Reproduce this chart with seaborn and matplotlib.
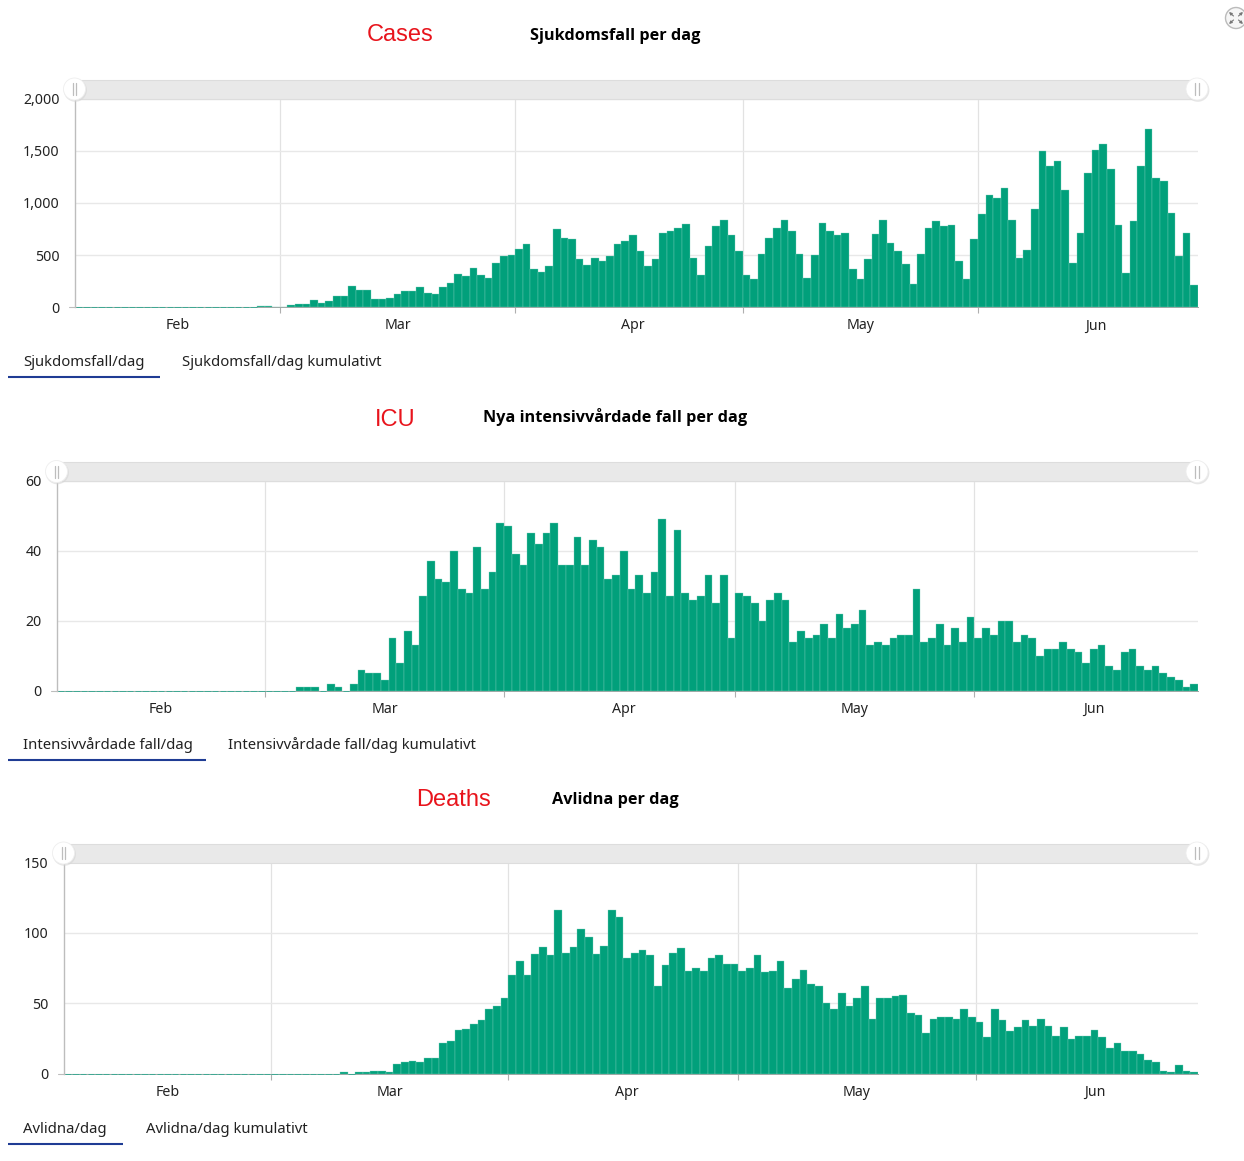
import matplotlib
matplotlib.use("Agg")
import matplotlib.pyplot as plt
from matplotlib.patches import Circle, Rectangle
import numpy as np
import pandas as pd
import seaborn as sns

# ---------- data ----------
cases = [0]*24 + [15, 8, 6] + [
    6,20,30,30,67,45,58,105,105,200,165,165,80,80,93,128,153,153,190,140,128,190,236,320,297,380,307,284,428,489,500,
    560,607,367,342,393,751,668,655,463,406,476,441,489,607,633,690,537,393,463,716,728,764,799,476,307,585,776,834,690,537,
    307,272,511,668,764,834,728,511,284,501,811,728,690,716,367,272,463,703,834,620,537,415,224,511,764,824,776,786,441,272,655,
    895,1073,1051,1147,834,476,546,943,1495,1351,1399,1121,428,716,1291,1505,1565,1326,786,329,824,1351,1709,1243,1208,907,489,716,211]
icu = [0]*27 + [
    0,0,0,0,1,1,1,0,2,1,0,2,6,5,5,3,15,8,17,13,27,37,32,31,40,29,28,41,29,34,48,
    47,39,36,45,42,45,48,36,36,44,36,43,41,32,33,40,29,33,28,34,49,27,46,28,26,27,33,25,33,15,
    28,27,25,20,26,28,26,14,17,15,16,19,15,22,18,19,23,13,14,13,15,16,16,29,14,15,19,13,18,14,21,
    15,18,16,20,20,14,16,15,10,12,12,14,12,11,8,12,13,7,6,11,12,7,6,7,5,4,3,1,2]
deaths = [0]*27 + [
    0,0,0,0,0,0,0,0,0,1,0,1,1,2,2,1,7,8,9,8,11,11,22,23,31,32,35,38,46,48,54,
    70,80,70,85,90,84,116,86,90,103,97,85,91,116,111,82,86,88,84,62,77,86,89,73,75,73,82,84,78,78,
    73,75,84,72,73,80,61,67,74,64,62,50,46,57,48,54,62,39,54,54,55,56,43,42,29,39,40,40,39,46,40,
    37,26,46,38,30,33,38,34,39,34,27,33,25,27,27,31,26,18,22,16,16,14,10,8,2,1,6,2,1]
dates = pd.date_range("2020-02-03", periods=148).strftime("%Y-%m-%d").tolist()
month_labels = ["Feb", "Mar", "Apr", "May", "Jun"]
titles = ["Sjukdomsfall per dag", "Nya intensivvårdade fall per dag", "Avlidna per dag"]
red_labels = ["Cases", "ICU", "Deaths"]
tabs = [("Sjukdomsfall/dag", "Sjukdomsfall/dag kumulativt"),
        ("Intensivvårdade fall/dag", "Intensivvårdade fall/dag kumulativt"),
        ("Avlidna/dag", "Avlidna/dag kumulativt")]
yticks = [[0, 500, 1000, 1500, 2000], [0, 20, 40, 60], [0, 50, 100, 150]]
series = [cases, icu, deaths]

# ---------- layout (pixels) ----------
W, H = 1244, 1161
left = [75, 57, 64]
right = 1198
top = [98.5, 481, 862.5]
bottom = [307.3, 690.7, 1073.7]
title_y = [35, 416, 799]
red_xy = [(400, 33), (395, 418), (453.5, 798)]
tab_y = [361, 744, 1128]
tab_under = [160, 206, 123]
tab2_x = [182, 228, 146]
BAR = "#01A07B"
EDGE = "#7FD0BD"
GRID = "#E8E8E8"

sns.set_theme(style="white")
plt.rcParams["font.family"] = ["Noto Sans", "DejaVu Sans"]
fig = plt.figure(figsize=(W/100, H/100), dpi=100, facecolor="white")

month_starts = [27, 58, 88, 119]
label_pos = [27 - 14, 27 + 15, 58 + 15, 88 + 15, 119 + 15]

for k, vals in enumerate(series):
    ax = fig.add_axes([left[k]/W, 1 - bottom[k]/H, (right-left[k])/W, (bottom[k]-top[k])/H])
    df = pd.DataFrame({"date": dates, "value": vals})
    sns.barplot(data=df, x="date", y="value", ax=ax, color=BAR, saturation=1,
                width=1, edgecolor=EDGE, linewidth=0.25, zorder=3)
    for p in ax.patches:
        if p.get_height() == 0:
            p.set_x(p.get_x() + 0.08)
            p.set_width(p.get_width() - 0.16)
            p.set_edgecolor("#3FA893")
            p.set_linewidth(0.7)
            p.set_clip_on(False)
    ax.set_xlim(-0.5, len(vals) - 0.5)
    ax.set_ylim(0, yticks[k][-1])
    ax.set_xlabel(""); ax.set_ylabel("")
    ax.set_xticks([m - 0.5 for m in month_starts])
    ax.set_xticklabels([""] * 4)
    ax.set_xticks(label_pos, labels=month_labels, minor=True)
    ax.set_yticks(yticks[k])
    ax.set_yticklabels([f"{v:,}" for v in yticks[k]])
    ax.set_axisbelow(True)
    ax.grid(True, axis="y", which="major", color=GRID, linewidth=1)
    ax.grid(True, axis="x", which="major", color="#E2E2E2", linewidth=0.9)
    ax.tick_params(axis="x", which="major", length=4.5, width=0.8, color="#AFAFAF", bottom=True)
    ax.tick_params(axis="x", which="minor", length=0, pad=8, labelsize=10.2, labelcolor="#222222")
    ax.tick_params(axis="y", length=0, pad=11, labelsize=10.2, labelcolor="#222222")
    for s in ("top", "right"):
        ax.spines[s].set_visible(False)
    ax.spines["left"].set_color("#BDBDBD")
    ax.spines["left"].set_linewidth(1)
    ax.spines["bottom"].set_color("#9AA8A4")
    ax.spines["bottom"].set_linewidth(0.7)
    ax.spines["bottom"].set_zorder(2)

# overlay in pixel coordinates for the page furniture
ov = fig.add_axes([0, 0, 1, 1], zorder=10)
ov.set_xlim(0, W); ov.set_ylim(H, 0); ov.axis("off"); ov.patch.set_alpha(0)

for k in range(3):
    cy = top[k] - 9.5
    ov.add_patch(Rectangle((left[k], cy - 9.5), 1197 - left[k], 19, facecolor="#E9E9E9",
                           edgecolor="#DDDDDD", linewidth=0.8))
    for hx in (left[k] - 0.5, 1197):
        ov.add_patch(Circle((hx + 0.8, cy + 1.2), 11.6, facecolor="#D6D6D6", edgecolor="none", alpha=0.6))
        ov.add_patch(Circle((hx, cy), 11, facecolor="white", edgecolor="#EEEEEE", linewidth=0.6))
        ov.plot([hx - 1.8, hx - 1.8], [cy - 6, cy + 6], color="#BDBDBD", lw=0.9)
        ov.plot([hx + 1.8, hx + 1.8], [cy - 6, cy + 6], color="#BDBDBD", lw=0.9)
    # small tick beside the zero label
    ov.plot([left[k] - 6, left[k]], [bottom[k], bottom[k]], color="#BDBDBD", lw=0.8)
    ov.text(615, title_y[k] + 1.5, titles[k], ha="center", va="center", fontsize=11.7,
            fontweight="bold", color="black", family="Open Sans")
    ov.text(red_xy[k][0], red_xy[k][1] + 2, red_labels[k], ha="center", va="center", fontsize=17,
            color="#E8141C", family="Liberation Sans")
    ov.text(23, tab_y[k] + 1.5, tabs[k][0], ha="left", va="center", fontsize=10.7, color="#222222")
    ov.text(tab2_x[k], tab_y[k] + 1.5, tabs[k][1], ha="left", va="center", fontsize=10.7, color="#222222")
    ov.plot([8, tab_under[k]], [tab_y[k] + 16, tab_y[k] + 16], color="#1F3C94", lw=1.5,
            solid_capstyle="butt")

# expand icon
ix, iy = 1236, 18
ov.add_patch(Circle((ix, iy), 10.5, facecolor="#F6F6F6", edgecolor="#BBBBBB", linewidth=1))
for dx, dy in [(-1, -1), (1, -1), (-1, 1), (1, 1)]:
    ov.annotate("", xy=(ix + dx*7, iy + dy*6), xytext=(ix + dx*2.5, iy + dy*2),
                arrowprops=dict(arrowstyle="-|>", color="#777777", lw=0.8, mutation_scale=4,
                                shrinkA=0, shrinkB=0))

fig.savefig("out.png", dpi=100, facecolor="white")
